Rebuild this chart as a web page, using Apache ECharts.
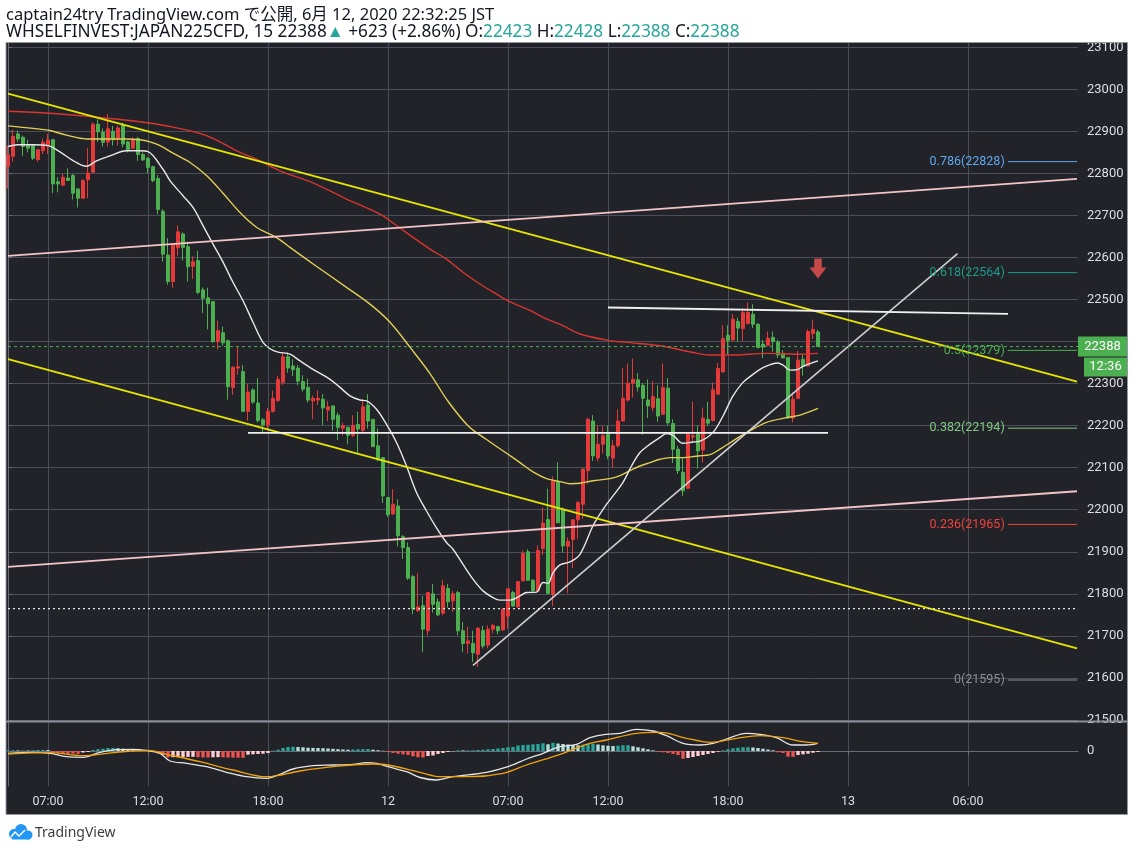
<!DOCTYPE html>
<html><head><meta charset="utf-8">
<script src="https://cdn.jsdelivr.net/npm/echarts@6/dist/echarts.min.js"></script>
<style>html,body{margin:0;padding:0;background:#fff}#c{width:1134px;height:852px}</style>
</head><body><div id="c"></div>
<script>
// ---------- axis ticks ----------
const tickBars = [8, 28, 52, 76, 100, 120, 144, 168, 192];
const tickLabels = ['07:00', '12:00', '18:00', '12', '07:00', '12:00', '18:00', '13', '06:00'];
const priceTicks = [21500, 21600, 21700, 21800, 21900, 22000, 22100, 22200, 22300, 22400, 22500, 22600, 22700, 22800, 22900, 23000, 23100];

// ---------- candles (15 min) ----------
const opens = [
22816,22841,22894,22886,22868,22866,22833,22854,22866,22880,
22780,22772,22789,22795,22763,22741,22785,22803,22917,22898,
22875,22900,22883,22915,22875,22860,22883,22845,22836,22816,
22788,22710,22606,22543,22623,22656,22626,22579,22593,22523,
22504,22495,22400,22421,22402,22291,22337,22329,22234,22285,
22254,22214,22202,22234,22260,22303,22364,22342,22337,22305,
22291,22259,22261,22263,22237,22247,22225,22194,22196,22177,
22203,22189,22249,22215,22152,22124,22029,21990,22009,21936,
21910,21841,21760,21772,21712,21800,21781,21754,21813,21783,
21803,21712,21682,21682,21656,21713,21678,21716,21722,21714,
21747,21803,21769,21831,21900,21832,21807,21908,21977,21799,
22066,22001,21913,21929,21976,22013,22093,22211,22123,22156,
22180,22123,22152,22211,22261,22301,22309,22296,22261,22243,
22264,22227,22289,22205,22144,22089,22051,22173,22180,22142,
22215,22212,22275,22328,22415,22404,22448,22431,22443,22465,
22441,22394,22391,22410,22399,22372,22362,22218,22265,22358,
22342,22419,22423];
const closes = [
22844,22888,22882,22864,22860,22836,22856,22874,22879,22775,
22775,22791,22783,22753,22741,22783,22801,22917,22899,22874,
22906,22880,22908,22870,22856,22880,22845,22832,22814,22783,
22714,22608,22543,22630,22661,22624,22578,22590,22517,22503,
22490,22400,22426,22397,22293,22339,22340,22234,22280,22256,
22212,22202,22234,22265,22310,22364,22337,22333,22306,22287,
22261,22265,22265,22242,22245,22215,22196,22200,22177,22201,
22192,22245,22211,22150,22119,22033,21988,22013,21938,21910,
21837,21764,21769,21716,21803,21775,21750,21819,21781,21800,
21712,21682,21688,21660,21718,21676,21716,21725,21712,21763,
21812,21771,21829,21896,21832,21807,21903,21968,21801,22068,
21969,21914,21925,21976,22017,22097,22215,22128,22156,22176,
22128,22152,22211,22265,22301,22310,22292,22265,22247,22269,
22223,22291,22207,22144,22093,22045,22180,22176,22140,22218,
22206,22285,22336,22407,22402,22453,22432,22469,22469,22441,
22386,22387,22408,22400,22368,22361,22219,22263,22356,22341,
22424,22429,22388];
const lows = [
22764,22828,22874,22842,22850,22832,22828,22846,22846,22753,
22755,22771,22783,22738,22719,22741,22741,22801,22875,22864,
22864,22866,22866,22862,22850,22858,22830,22830,22801,22779,
22703,22590,22535,22528,22604,22593,22543,22549,22513,22468,
22429,22397,22381,22390,22262,22273,22321,22232,22212,22252,
22207,22184,22188,22231,22256,22297,22326,22318,22296,22281,
22255,22215,22249,22201,22211,22188,22166,22177,22156,22173,
22135,22185,22193,22150,22115,22016,21983,21988,21913,21883,
21833,21752,21757,21662,21701,21755,21747,21749,21767,21757,
21701,21662,21658,21638,21626,21670,21670,21706,21704,21712,
21717,21769,21767,21829,21831,21804,21804,21892,21799,21771,
21968,21898,21802,21861,21930,21978,22061,22116,22115,22134,
22120,22100,22148,22210,22257,22267,22281,22178,22218,22234,
22209,22226,22201,22111,22085,22033,22049,22162,22098,22112,
22200,22210,22273,22326,22370,22402,22400,22402,22441,22432,
22384,22361,22390,22376,22361,22361,22216,22208,22263,22319,
22341,22406,22388];
const highs = [
22866,22904,22902,22890,22880,22870,22858,22882,22894,22882,
22791,22799,22812,22799,22765,22786,22860,22921,22928,22907,
22941,22913,22913,22921,22878,22886,22887,22850,22839,22818,
22796,22715,22646,22630,22676,22660,22638,22603,22616,22529,
22528,22495,22450,22436,22405,22341,22389,22344,22299,22289,
22313,22218,22242,22283,22319,22374,22374,22358,22344,22320,
22312,22271,22284,22275,22259,22247,22231,22207,22198,22225,
22233,22263,22275,22215,22193,22124,22029,22049,22025,21940,
21922,21845,21849,21795,21803,21823,21789,21832,21823,21807,
21807,21733,21722,21712,21721,21724,21725,21729,21724,21766,
21812,21807,21831,21903,21906,21835,21915,22005,22050,22079,
22113,22005,21934,21978,22021,22098,22219,22225,22201,22200,
22200,22166,22239,22337,22348,22360,22325,22301,22310,22306,
22296,22348,22313,22215,22152,22124,22180,22257,22201,22243,
22257,22303,22349,22439,22439,22465,22457,22479,22493,22489,
22444,22404,22424,22424,22404,22380,22362,22279,22378,22368,
22429,22452,22428];

// ---------- moving averages, read as [bar, price] ----------
const maFast = [[0,22864],[2,22868],[5,22868],[8,22866],[10.4,22851],[13.1,22830],[15.7,22817],[17.7,22830],[20.4,22842],[23.7,22854],[26.4,22854],[28,22852],[31,22810],[32.4,22783],[35,22747],[37,22719],[39,22676],[41,22632],[43,22589],[45,22541],[47,22497],[49,22446],[51,22398],[52.4,22383],[54,22375],[56.4,22370],[58.4,22354],[61,22334],[64.4,22310],[66.4,22291],[68.4,22271],[70.4,22261],[71.7,22259],[73.7,22239],[75.7,22203],[77.7,22160],[79.7,22104],[81.7,22041],[83.7,21997],[85.7,21957],[87.7,21922],[89,21906],[91,21870],[93,21835],[95,21807],[97,21791],[98.4,21785],[100.4,21785],[102.4,21795],[103.7,21803],[105.7,21804],[107,21827],[108,21825],[109,21850],[110.4,21869],[112.4,21876],[114.4,21894],[117,21962],[119,22001],[121,22033],[123,22065],[124.7,22104],[126.4,22136],[128.4,22156],[130.4,22172],[131.7,22181],[133,22177],[135,22158],[137,22161],[138.4,22163],[141,22184],[143,22223],[145,22271],[147,22303],[149,22322],[151,22338],[154,22349],[155,22344],[156.5,22332],[158,22334],[159,22341],[162,22354]];
const maMid = [[0,22913],[5,22907],[8.4,22902],[11.7,22891],[15.7,22882],[19.7,22882],[23.7,22882],[26.4,22880],[28.4,22875],[30.4,22866],[33,22848],[36.4,22826],[39.7,22795],[43,22753],[46.4,22707],[49.7,22672],[53,22652],[54.4,22642],[56.4,22624],[61.1,22584],[67.7,22529],[72.4,22489],[76.4,22446],[80.7,22382],[84.4,22324],[88,22258],[92,22200],[95.7,22167],[100,22132],[102.4,22112],[105,22090],[107.7,22074],[110.4,22067],[112.4,22062],[114.4,22063],[117,22069],[120.4,22074],[122.4,22081],[124.4,22093],[126.4,22104],[128.4,22112],[130.4,22120],[132.4,22124],[135,22124],[138,22128],[140.4,22131],[142.4,22144],[145,22164],[148.4,22188],[151.7,22208],[155.7,22219],[158.4,22225],[162,22241]];
const maSlow = [[0,22948],[8.4,22943],[18.4,22933],[26.4,22923],[33,22910],[39.7,22890],[46.4,22850],[49.7,22834],[54.4,22806],[61.1,22777],[67.7,22739],[74.4,22703],[77.7,22676],[81,22648],[84.4,22620],[87.7,22596],[91,22565],[94.4,22537],[97.7,22513],[100,22497],[104.4,22474],[107.7,22454],[111,22438],[114.4,22418],[120,22403],[124,22398],[130.4,22390],[137,22374],[140.4,22368],[145,22368],[151.7,22372],[158.4,22370],[162,22372]];

// ---------- drawn trend lines, [bar, price] end points ----------
const yellowUpper = [[0,22990],[213.8,22305]];
const yellowLower = [[0,22358],[213.8,21670]];
const pinkUpper = [[0,22604],[213.8,22787]];
const pinkLower = [[0,21864],[213.8,22044]];
const whiteRising = [[93,21630],[189.9,22609]];
const whiteResist = [[120,22481],[200,22466]];
const whiteSupport = [[48,22183],[164,22183]];
const prevCloseLine = [[0,21765],[214,21765]];
const lastPriceLine = [[0,22388],[214,22388]];
const arrowPoint = [[162,22574]];

// ---------- fibonacci retracement ----------
const fibLevels = ['0.786','0.618','0.5','0.382','0.236','0'];
const fibPrices = [22828,22564,22379,22194,21965,21595];
const fibColors = ['#5fa8f0','#1e9b8a','#4caf50','#81c784','#f0423c','#8a8d96'];
const fibRange = [200, 213.8];

// ---------- MACD (panel units) ----------
const macdHist = [
1.4,1.4,1.2,1.2,1.0,1.6,2,2.2,2,-3.4,
-4.4,-5.4,-5.4,-5.4,-5.6,-3,-2,2,3.4,4.6,
6,6.2,5.4,4.6,3.4,2.6,2,1.4,1,-1.4,
-4.6,-8,-12.8,-12.4,-12.2,-12,-11.8,-11.6,-12.4,-12.8,
-13,-12.6,-12.2,-12.6,-13,-13.2,-13.4,-13.6,-7.4,-6.6,
-6,-5.4,-4,0.6,2.6,6,8,8.6,8,7.4,
6.6,6.2,6,5.6,5,4.4,3.6,3,2.6,3,
3.4,3.8,4,2.6,1.6,0.6,-2,-4,-5.4,-6.6,
-8,-10.6,-12.6,-13,-10,-9,-6,-4,-2,-0.6,
1.4,1.2,1.2,1.4,2,2.6,3.4,4,5,6,
7.4,8,11,12,12.4,13.4,14,15.4,13.4,16.6,
15,14,13,12,11.4,12.6,14,14.6,13,11.4,
10.6,10,10.6,11.4,11.6,9.4,7.4,5.4,3.4,1.4,
-1.4,-2.6,-4,-6,-8,-15.4,-14,-12,-10,-8,
-6,-4,-1.4,1.4,3.4,5.4,6.6,7.4,7.6,7,
6,4.6,3,1.4,-2.6,-4,-11.4,-11.6,-8,-6.6,
-5.4,-3.4,-2];
const macdLine = [[0,-4.6],[5,-2.6],[8.4,-4.6],[11.7,-11.4],[15,-12.6],[18.4,-2.6],[21.7,2.6],[25,3.4],[28,0.6],[30.4,-4.6],[32.4,-20],[35.7,-24.6],[39.7,-31.4],[43.7,-42.6],[47.7,-51.4],[51.7,-54.6],[54.4,-46.6],[57,-36],[61,-29.4],[65,-28],[69,-26.6],[71.7,-23.4],[73.7,-24.6],[76,-31.4],[79.7,-41.4],[82.4,-53],[85.7,-58],[89,-51.4],[95.7,-42.6],[100,-31.4],[103.7,-16],[107,-4.6],[110.4,8.6],[113.7,13.4],[116.4,26.6],[119.7,33.4],[122.4,35.4],[125.7,43.4],[129,40],[131.7,30.6],[135,15.4],[138.4,12],[141,15.4],[143.7,24],[147.7,35.4],[150.4,33.4],[153.7,26.6],[157,12],[159.7,12],[162,15.4]];
const signalLine = [[0,-6],[8.4,-3.4],[15,-9.4],[21.7,-2.6],[28,1.4],[31.7,-6.6],[38.4,-21.4],[45,-38],[51.7,-51.4],[58.4,-40],[65,-31.4],[73,-26],[76,-28],[82.4,-42.6],[86.4,-51.4],[92.4,-51.4],[99,-44.6],[103.7,-28],[110.4,-6.6],[115.7,13.4],[119.7,22],[125.7,35.4],[130.4,37.4],[135.7,25.4],[140.4,17.4],[145.7,25.4],[150.4,30.6],[155,26.6],[159,18.6],[162,15.4]];

const lastPrice = 22388;
const timerText = '12:36';

// ---------- build ----------
const N = 215;
const cats = Array.from({length: N}, (_, i) => String(i));
const isTick = (i) => tickBars.indexOf(i) >= 0;
const candles = opens.map((o, i) => [o, closes[i], lows[i], highs[i]]);
const GRID = '#4b4e58';
const AXIS = '#6a6d78';
const TXT = '#dcdee5';
const FONT = 'Roboto, "Noto Sans", sans-serif';

function tl(name, data, color, width, type) {
  return {name, type: 'line', xAxisIndex: 1, yAxisIndex: 0, data, symbol: 'none',
    lineStyle: {color, width, type: type || 'solid'}, silent: true, z: 3};
}
function ma(name, data, color) {
  return {name, type: 'line', xAxisIndex: 1, yAxisIndex: 0, data, symbol: 'none', smooth: 0.35,
    lineStyle: {color, width: 1.4}, silent: true, z: 3};
}

const series = [
  {type: 'candlestick', xAxisIndex: 0, yAxisIndex: 0, data: candles, barWidth: 3, clip: false,
    itemStyle: {color: '#e5393a', color0: '#4caf50', borderColor: '#e5393a', borderColor0: '#4caf50', borderWidth: 1}},
  ma('maSlow', maSlow, '#d8352f'),
  ma('maMid', maMid, '#e2cf55'),
  ma('maFast', maFast, '#e8e8e8'),
  tl('yU', yellowUpper, '#e6e600', 1.8),
  tl('yL', yellowLower, '#e6e600', 1.8),
  tl('pU', pinkUpper, '#f2c4c8', 1.8),
  tl('pL', pinkLower, '#f2c4c8', 1.8),
  tl('wR', whiteRising, '#cfcfd2', 1.6),
  tl('wH', whiteResist, '#f0f0f0', 1.8),
  tl('wS', whiteSupport, '#f0f0f0', 1.8),
  tl('prev', prevCloseLine, '#e8e8e8', 1.2, [2, 3]),
  tl('last', lastPriceLine, '#4caf50', 1, [3, 3]),
  {type: 'scatter', xAxisIndex: 1, yAxisIndex: 0, data: arrowPoint, silent: true, z: 5,
    symbol: 'path://M5,0 L13,0 L13,9 L18,9 L9,20 L0,9 L5,9 Z', symbolSize: [17, 20],
    itemStyle: {color: '#ef5350'}}
];
fibPrices.forEach((p, i) => {
  series.push({type: 'line', xAxisIndex: 1, yAxisIndex: 0, silent: true, z: 4,
    symbol: 'circle', symbolSize: 0.5, showSymbol: true,
    lineStyle: {color: fibColors[i], width: 1},
    itemStyle: {color: fibColors[i]},
    labelLayout: {hideOverlap: false},
    data: [
      {value: [fibRange[0], p], label: {show: true, position: 'left', distance: 3, offset: [0, -7],
        formatter: fibLevels[i] + '(' + p + ')', color: fibColors[i], fontSize: 12.5, fontFamily: FONT}},
      {value: [fibRange[1], p], label: {show: false}}
    ]});
});
series.push(
  {type: 'bar', xAxisIndex: 2, yAxisIndex: 1, data: macdHist, barWidth: 3.4, silent: true,
    itemStyle: {color: (p) => {
      const v = macdHist[p.dataIndex], pv = p.dataIndex > 0 ? macdHist[p.dataIndex - 1] : v;
      if (v >= 0) return v >= pv ? '#26a69a' : '#b2dfdb';
      return v <= pv ? '#ef5350' : '#ffcdd2';
    }}},
  {type: 'line', xAxisIndex: 3, yAxisIndex: 1, data: macdLine, symbol: 'none', smooth: 0.35,
    lineStyle: {color: '#e6e6e6', width: 1.3}, silent: true},
  {type: 'line', xAxisIndex: 3, yAxisIndex: 1, data: signalLine, symbol: 'none', smooth: 0.35,
    lineStyle: {color: '#f0a20c', width: 1.3}, silent: true}
);

const chart = echarts.init(document.getElementById('c'));
const option = {
  animation: false,
  backgroundColor: '#222328',
  grid: [
    {left: 8, right: 56, top: 43, height: 678},
    {left: 8, right: 56, top: 722, height: 64}
  ],
  xAxis: [
    {gridIndex: 0, type: 'category', data: cats, boundaryGap: false,
      axisLine: {show: false}, axisTick: {show: false}, axisLabel: {show: false},
      splitLine: {show: true, interval: (i) => isTick(i), lineStyle: {color: GRID}}},
    {gridIndex: 0, type: 'value', min: 0, max: N - 1, show: false, splitLine: {show: false}},
    {gridIndex: 1, type: 'category', data: cats, boundaryGap: false,
      axisLine: {show: true, lineStyle: {color: AXIS}},
      axisTick: {show: true, interval: (i) => isTick(i), length: 4, lineStyle: {color: AXIS}},
      axisLabel: {show: true, interval: (i) => isTick(i), color: TXT, fontSize: 12.5, fontFamily: FONT, margin: 9,
        formatter: (v) => { const k = tickBars.indexOf(Number(v)); return k >= 0 ? tickLabels[k] : ''; }},
      splitLine: {show: true, interval: (i) => isTick(i), lineStyle: {color: GRID}}},
    {gridIndex: 1, type: 'value', min: 0, max: N - 1, show: false, splitLine: {show: false}}
  ],
  yAxis: [
    {gridIndex: 0, type: 'value', position: 'right', min: 21497.5, max: 23110.2,
      axisLine: {show: true, lineStyle: {color: AXIS}},
      axisTick: {show: true, length: 4, customValues: priceTicks, lineStyle: {color: AXIS}},
      axisLabel: {customValues: priceTicks, color: TXT, fontSize: 13, fontFamily: FONT, margin: 9,
        formatter: (v) => Math.abs(v - lastPrice) < 25 ? '' : String(v)},
      splitLine: {show: true, lineStyle: {color: GRID}}},
    {gridIndex: 1, type: 'value', position: 'right', min: -70, max: 58,
      axisLine: {show: true, lineStyle: {color: AXIS}},
      axisTick: {show: true, length: 4, customValues: [0], lineStyle: {color: AXIS}},
      axisLabel: {customValues: [0], color: TXT, fontSize: 13, fontFamily: FONT, margin: 9, formatter: (v) => String(v)},
      splitLine: {show: true, lineStyle: {color: '#3d4049'}}}
  ],
  series
};
chart.setOption(option);

const py = chart.convertToPixel({yAxisIndex: 0}, lastPrice);
const teal = '#26a69a';
chart.setOption({
  graphic: {elements: [
    {type: 'rect', z: 100, shape: {x: 0, y: 0, width: 1134, height: 42.5}, style: {fill: '#ffffff'}},
    {type: 'rect', z: 100, shape: {x: 0, y: 814.5, width: 1134, height: 38}, style: {fill: '#ffffff'}},
    {type: 'rect', z: 100, shape: {x: 0, y: 0, width: 6, height: 852}, style: {fill: '#ffffff'}},
    {type: 'rect', z: 100, shape: {x: 1127.5, y: 0, width: 7, height: 852}, style: {fill: '#ffffff'}},
    {type: 'rect', z: 101, shape: {x: 6, y: 42.5, width: 1121.5, height: 772}, style: {fill: null, stroke: '#9598a1', lineWidth: 1}},
    {type: 'line', z: 50, shape: {x1: 6, y1: 721.5, x2: 1127.5, y2: 721.5}, style: {stroke: '#8c8f99', lineWidth: 2}},
    {type: 'text', z: 102, x: 6, y: 15, style: {text: 'captain24try TradingView.com で公開, 6月 12, 2020 22:32:25 JST',
      fill: '#131722', font: '16.5px "Noto Sans", "Noto Sans CJK JP", sans-serif', verticalAlign: 'middle'}},
    {type: 'text', z: 102, x: 6, y: 32, style: {
      text: 'WHSELFINVEST:JAPAN225CFD, 15 22388{t|▲} +623 (+2.86%) O:{t|22423} H:{t|22428} L:{t|22388} C:{t|22388}',
      fill: '#131722', font: '17.2px "Noto Sans", sans-serif', verticalAlign: 'middle',
      rich: {t: {fill: teal, font: '17.2px "Noto Sans", sans-serif'}}}},
    {type: 'rect', z: 60, shape: {x: 1078, y: py - 10, width: 49.5, height: 20}, style: {fill: '#4caf50'}},
    {type: 'text', z: 61, x: 1102.5, y: py, style: {text: String(lastPrice), fill: '#ffffff', font: '13px Roboto', align: 'center', verticalAlign: 'middle'}},
    {type: 'rect', z: 60, shape: {x: 1084, y: py + 11, width: 43.5, height: 19}, style: {fill: '#4caf50'}},
    {type: 'text', z: 61, x: 1105.5, y: py + 20.5, style: {text: timerText, fill: '#ffffff', font: '13px Roboto', align: 'center', verticalAlign: 'middle'}},
    {type: 'circle', z: 102, shape: {cx: 14, cy: 834, r: 5}, style: {fill: '#2196f3'}},
    {type: 'circle', z: 102, shape: {cx: 21, cy: 830, r: 6}, style: {fill: '#2196f3'}},
    {type: 'circle', z: 102, shape: {cx: 28, cy: 835, r: 4.5}, style: {fill: '#2196f3'}},
    {type: 'rect', z: 102, shape: {x: 12, y: 833, width: 17, height: 6.5}, style: {fill: '#2196f3'}},
    {type: 'polyline', z: 103, shape: {points: [[11, 837], [15, 832], [19, 836], [25, 830]]}, style: {stroke: '#ffffff', lineWidth: 1.5, fill: null}},
    {type: 'text', z: 102, x: 35, y: 833, style: {text: 'TradingView', fill: '#3a3d45', font: '14px "Noto Sans", sans-serif', verticalAlign: 'middle'}}
  ]}
});
</script>
</body></html>
